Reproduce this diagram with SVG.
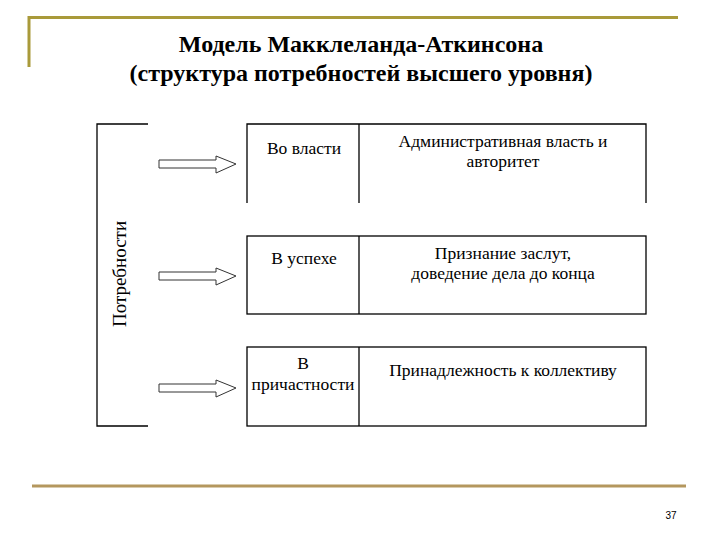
<svg xmlns="http://www.w3.org/2000/svg" width="720" height="540" viewBox="0 0 720 540">
<style>
.t{font-family:"Liberation Serif","Times New Roman",serif;fill:#000}
.title{font-size:24px;font-weight:bold;text-anchor:middle}
.lbl{font-size:17.5px;text-anchor:middle}
.num{font-family:"Liberation Sans",Arial,sans-serif;font-size:10px;text-anchor:middle;fill:#000}
.ln{stroke:#000;stroke-width:1.3;fill:none}
.arr{fill:#fff;stroke:#333;stroke-width:1}
</style>
<rect width="720" height="540" fill="#fff"/>
<g id="frame">
<path d="M29 67 V17.5 H678" stroke="#A99A3A" stroke-width="3" fill="none"/>
<line x1="32" y1="486" x2="686" y2="486" stroke="#B4975E" stroke-width="3"/>
</g>
<g id="title">
<text class="t title" x="361" y="52">Модель Макклеланда-Аткинсона</text>
<text class="t title" x="361" y="81">(структура потребностей высшего уровня)</text>
</g>
<g id="needs">
<path class="ln" d="M148 124 H97 V426 H148"/>
<text class="t" font-size="19" transform="translate(126 274) rotate(-90)" text-anchor="middle">Потребности</text>
</g>
<g id="connectors">
<path class="arr" d="M159 160 H216 V156 L236 164 L216 173 V168 H159 Z"/>
<path class="arr" d="M159 272 H216 V268 L236 276 L216 285 V280 H159 Z"/>
<path class="arr" d="M159 384 H216 V380 L236 388 L216 397 V392 H159 Z"/>
</g>
<g id="power">
<path class="ln" d="M247 203 V124 H646 V203 M359 124 V203"/>
<text class="t lbl" x="304" y="154">Во власти</text>
<text class="t lbl" x="503" y="147">Административная власть и</text>
<text class="t lbl" x="503" y="167">авторитет</text>
</g>
<g id="success">
<rect class="ln" x="247" y="236" width="399" height="78"/>
<line class="ln" x1="359" y1="236" x2="359" y2="314"/>
<text class="t lbl" x="304" y="264">В успехе</text>
<text class="t lbl" x="503" y="259">Признание заслут,</text>
<text class="t lbl" x="503" y="279">доведение дела до конца</text>
</g>
<g id="affiliation">
<rect class="ln" x="247" y="347" width="399" height="79"/>
<line class="ln" x1="359" y1="347" x2="359" y2="426"/>
<text class="t lbl" x="303" y="369">В</text>
<text class="t lbl" x="303" y="390">причастности</text>
<text class="t lbl" x="503" y="376">Принадлежность к коллективу</text>
</g>
<text class="num" x="671" y="519">37</text>
</svg>
